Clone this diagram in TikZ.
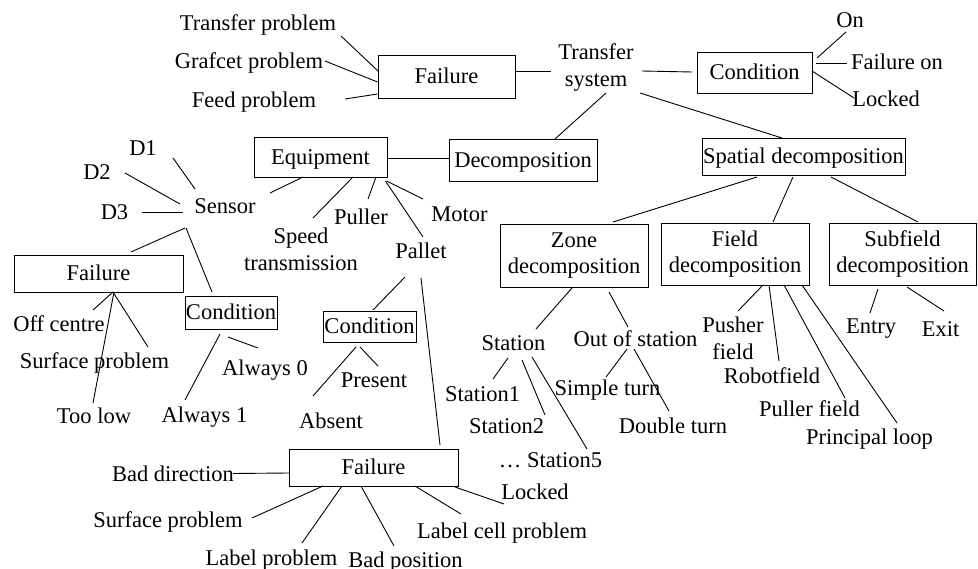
\documentclass[tikz,border=0pt]{standalone}
\usepackage{fontspec}
\setmainfont{Liberation Serif}
\usetikzlibrary{calc}
\newcommand\cn[4]{\draw ($(#1)+(#2)$) -- ($(#3)+(#4)$);}
\begin{document}
\begin{tikzpicture}[x=1pt,y=-1pt,line width=0.9pt,
  every node/.style={font=\fontsize{22.5}{26.5}\selectfont, inner sep=0pt},
  lbl/.style={text height=15pt,text depth=0pt},
  two/.style={align=center},
  box/.style={draw,line width=0.9pt,text height=15pt,text depth=0pt},
  boxt/.style={draw,line width=0.9pt,align=center}]
\fill[white] (0,0) rectangle (978,569);
\useasboundingbox (0,0) rectangle (978,569);
% top part
\node[lbl] (tp) at (258,23) {Transfer problem};
\node[lbl] (gp) at (249,61.5) {Grafcet problem};
\node[lbl] (fp) at (254,100) {Feed problem};
\node[box,minimum width=137pt,minimum height=43pt] (fT) at (446.5,76.5) {Failure};
\node[two] (ts) at (596,67.5) {Transfer\\system};
\node[box,minimum width=115pt,minimum height=41pt] (cT) at (754.5,72.5) {Condition};
\node[lbl] (on) at (850,20.5) {On};
\node[lbl] (fo) at (897,62) {Failure on};
\node[lbl] (lk) at (886,99) {Locked};
\node[box,minimum width=148pt,minimum height=42pt] (dec) at (523,160) {Decomposition};
\node[box,minimum width=203pt,minimum height=37pt] (sp) at (803.5,156.5) {Spatial decomposition};
\node[box,minimum width=133pt,minimum height=40pt] (eq) at (320.5,157) {Equipment};
% sensor part
\node[lbl] (d1) at (143,148) {D1};
\node[lbl] (d2) at (97,172) {D2};
\node[lbl] (d3) at (114.5,212) {D3};
\node[lbl] (sen) at (225,206.5) {Sensor};
\node[box,minimum width=169pt,minimum height=37pt] (fL) at (98.5,273.5) {Failure};
\node[box,minimum width=92pt,minimum height=33pt] (cL) at (231,312.5) {Condition};
\node[lbl] (oc) at (59,324) {Off centre};
\node[lbl] (spL) at (94.5,361) {Surface problem};
\node[lbl] (tl) at (94,416.5) {Too low};
\node[lbl] (a0) at (265,368.5) {Always 0};
\node[lbl] (a1) at (204.5,415.5) {Always 1};
% equipment children
\node[two] (st) at (301,249.5) {Speed\\transmission};
\node[lbl] (pu) at (361,217.5) {Puller};
\node[lbl] (mo) at (459.5,214) {Motor};
\node[lbl] (pa) at (421,251.5) {Pallet};
\node[box,minimum width=93pt,minimum height=31pt] (cM) at (369.5,326.5) {Condition};
\node[lbl] (pr) at (374,380) {Present};
\node[lbl] (ab) at (331,421) {Absent};
\node[box,minimum width=169pt,minimum height=37pt] (fB) at (373.5,467.5) {Failure};
\node[lbl] (bd) at (173,473.5) {Bad direction};
\node[lbl] (spB) at (168,520) {Surface problem};
\node[lbl] (lp) at (271.5,558) {Label problem};
\node[lbl] (bp) at (405.5,559.5) {Bad position};
\node[lbl] (lcp) at (502,530.5) {Label cell problem};
\node[lbl] (lkB) at (535,491.5) {Locked};
% spatial part
\node[boxt,minimum width=148pt,minimum height=63pt] (zd) at (574,255.5) {Zone\\decomposition};
\node[boxt,minimum width=148pt,minimum height=62pt] (fd) at (735,254) {Field\\decomposition};
\node[boxt,minimum width=147pt,minimum height=62pt] (sd) at (902.5,254) {Subfield\\decomposition};
\node[lbl] (sta) at (513.5,343) {Station};
\node[lbl] (s1) at (482.5,394) {Station1};
\node[lbl] (s2) at (506.5,425.5) {Station2};
\node[lbl] (s5) at (550.5,460) {… Station5};
\node[lbl] (os) at (635.5,339.5) {Out of station};
\node[lbl] (stt) at (607.5,388) {Simple turn};
\node[lbl] (dt) at (673,425.5) {Double turn};
\node[two] (pf) at (733,338.5) {Pusher\\field};
\node[lbl] (rf) at (772,376.5) {Robotfield};
\node[lbl] (plf) at (809.5,409.5) {Puller field};
\node[lbl] (pl) at (869.5,437.5) {Principal loop};
\node[lbl] (en) at (871,326.5) {Entry};
\node[lbl] (ex) at (940.5,329.5) {Exit};
% connectors
\cn{tp}{83,13}{fT}{-68.5,-5.5}
\cn{gp}{76,-0.5}{fT}{-69,5.5}
\cn{fp}{91,-1}{fT}{-69,17.5}
\cn{fT}{68.5,-5.5}{ts}{-45,3.5}
\cn{ts}{46,3.5}{cT}{-62.5,-0.5}
\cn{cT}{62.5,-14.5}{on}{-4,11.5}
\cn{cT}{61.5,-9.5}{fo}{-50,1}
\cn{cT}{57.5,-1.5}{lk}{-32,-1}
\cn{ts}{10,25.5}{dec}{32,-21}
\cn{ts}{44,25.5}{sp}{-21.5,-18.5}
\cn{eq}{66.5,1}{dec}{-74,-2}
\cn{eq}{-17.5,20}{sen}{45,-13.5}
\cn{eq}{32.5,20}{st}{12,-31.5}
\cn{eq}{55.5,20}{pu}{7,-18.5}
\cn{eq}{66,24}{mo}{-36.5,-15}
\cn{eq}{65,24}{pa}{2,-14.5}
\cn{d1}{30,10}{sen}{-30,-17.5}
\cn{d2}{28,1}{sen}{-45,-2.5}
\cn{d3}{27.5,0}{sen}{-42,5.5}
\cn{sen}{-40,21.5}{fL}{32.5,-21.5}
\cn{sen}{-39,21.5}{cL}{-19,-20.5}
\cn{fL}{14.5,18.5}{oc}{34,-14}
\cn{fL}{14.5,18.5}{spL}{53.5,-14}
\cn{fL}{15.5,18.5}{tl}{-1,-13.5}
\cn{cL}{-11,21.5}{a1}{-19.5,-15.5}
\cn{cL}{-3,24.5}{a0}{-7,-20.5}
\cn{pa}{-16,25.5}{cM}{3.5,-16.5}
\cn{pa}{0,26.5}{fB}{66.5,-22.5}
\cn{cM}{-9.5,20.5}{pr}{4,-14}
\cn{cM}{-13.5,20.5}{ab}{-18,-25}
\cn{fB}{-84.5,5.5}{bd}{60,0}
\cn{fB}{-50.5,18.5}{spB}{84,-2}
\cn{fB}{-31.5,18.5}{lp}{30.5,-15}
\cn{fB}{-12.5,18.5}{bp}{-11.5,-13.5}
\cn{fB}{41.5,18.5}{lcp}{-41,-16.5}
\cn{fB}{81.5,19.5}{lkB}{-31,12.5}
\cn{sp}{-46.5,20.5}{zd}{39,-33.5}
\cn{sp}{-10.5,20.5}{fd}{38,-32}
\cn{sp}{27.5,20.5}{sd}{15.5,-32}
\cn{zd}{-2,32.5}{sta}{22.5,-14}
\cn{zd}{35,36.5}{os}{-7.5,-12.5}
\cn{sta}{-5.5,15}{s1}{10.5,-15}
\cn{sta}{8.5,17}{s2}{38.5,-10.5}
\cn{sta}{18.5,14}{s5}{36.5,-11}
\cn{os}{-8.5,9.5}{stt}{-1.5,-11}
\cn{os}{-1.5,9.5}{dt}{-4,-14.5}
\cn{fd}{28,31}{pf}{5,-27.5}
\cn{fd}{34,31}{rf}{7,-15.5}
\cn{fd}{49,31}{plf}{35.5,-11.5}
\cn{fd}{67,31}{pl}{27.5,-14.5}
\cn{sd}{-24.5,35}{en}{-1,-13.5}
\cn{sd}{4.5,33}{ex}{3.5,-18.5}
\end{tikzpicture}
\end{document}
